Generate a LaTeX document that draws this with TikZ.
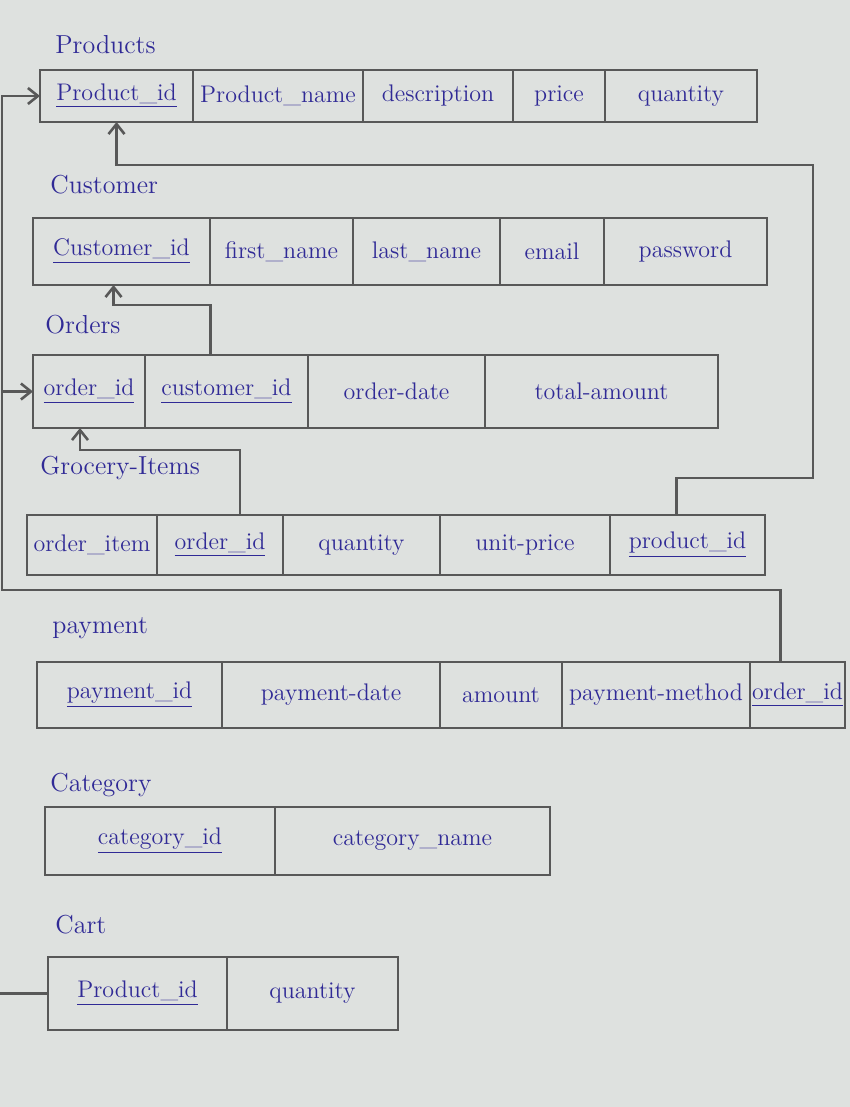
\documentclass[tikz,border=0pt]{standalone}
\usepackage{amsmath}
\usetikzlibrary{arrows.meta,
positioning,
calc}
\definecolor{ink}{RGB}{48,42,150}
\definecolor{pencil}{RGB}{88,88,88}
\definecolor{paper}{RGB}{222,225,223}

\begin{document}
\begin{tikzpicture} [x=0.5pt, y=-0.5pt,
    >={Straight Barb[length=5pt, width=8pt]},
    cell/.style={rectangle, draw=pencil, line width=0.7pt, text=ink,
        outer sep=0pt, inner sep=1pt, align=center,
        font=\fontsize{12}{14}\selectfont},
    title/.style={text=ink, anchor=west, inner sep=0pt,
        font=\fontsize{13}{15}\selectfont},
    link/.style={draw=pencil, line width=1.3pt, ->}
  ]

  \fill [paper] (0, 0) rectangle (850, 1107);
  \useasboundingbox (0, 0) rectangle (850, 1107);

  % Products
  \node [title] (tprod) at (55, 45) {Products};
  \begin{scope}[cell/.append style={minimum height=26pt}]
    \node [cell, anchor=west, minimum width=76.5pt] (pid) at (40, 96) {\underline{Product\_id}};
    \node [cell, minimum width=85pt, right=0pt of pid] (pname) {Product\_name};
    \node [cell, minimum width=75pt, right=0pt of pname] (pdesc) {description};
    \node [cell, minimum width=46pt, right=0pt of pdesc] (pprice) {price};
    \node [cell, minimum width=76pt, right=0pt of pprice] (pqty) {quantity};
  \end{scope}

  % Customer
  \node [title] (tcust) at (50, 185) {Customer};
  \begin{scope}[cell/.append style={minimum height=33.5pt}]
    \node [cell, anchor=west, minimum width=88.5pt] (cid) at (33, 251.5) {\underline{Customer\_id}};
    \node [cell, minimum width=71.5pt, right=0pt of cid] (cfirst) {first\_name};
    \node [cell, minimum width=73.5pt, right=0pt of cfirst] (clast) {last\_name};
    \node [cell, minimum width=52pt, right=0pt of clast] (cmail) {email};
    \node [cell, minimum width=81.5pt, right=0pt of cmail] (cpass) {password};
  \end{scope}

  % Orders
  \node [title] (tord) at (45, 325) {Orders};
  \begin{scope}[cell/.append style={minimum height=36.5pt}]
    \node [cell, anchor=west, minimum width=56pt] (oid) at (33, 391.5) {\underline{order\_id}};
    \node [cell, minimum width=81.5pt, right=0pt of oid] (ocust) {\underline{customer\_id}};
    \node [cell, minimum width=88.5pt, right=0pt of ocust] (odate) {order-date};
    \node [cell, minimum width=116.5pt, right=0pt of odate] (oamt) {total-amount};
  \end{scope}

  % Grocery-Items
  \node [title] (tgroc) at (40, 468) {Grocery-Items};
  \begin{scope}[cell/.append style={minimum height=30pt}]
    \node [cell, anchor=west, minimum width=65pt] (gitem) at (27, 545) {order\_item};
    \node [cell, minimum width=63pt, right=0pt of gitem] (gord) {\underline{order\_id}};
    \node [cell, minimum width=78.5pt, right=0pt of gord] (gqty) {quantity};
    \node [cell, minimum width=85pt, right=0pt of gqty] (gprice) {unit-price};
    \node [cell, minimum width=77.5pt, right=0pt of gprice] (gpid) {\underline{product\_id}};
  \end{scope}

  % payment
  \node [title] (tpay) at (52, 628) {payment};
  \begin{scope}[cell/.append style={minimum height=33pt}]
    \node [cell, anchor=west, minimum width=92.5pt] (payid) at (37, 695) {\underline{payment\_id}};
    \node [cell, minimum width=109pt, right=0pt of payid] (paydate) {payment-date};
    \node [cell, minimum width=61pt, right=0pt of paydate] (payamt) {amount};
    \node [cell, minimum width=94pt, right=0pt of payamt] (paymeth) {payment-method};
    \node [cell, minimum width=47.5pt, right=0pt of paymeth] (payord) {\underline{order\_id}};
  \end{scope}

  % Category
  \node [title] (tcat) at (50, 785) {Category};
  \begin{scope}[cell/.append style={minimum height=34pt}]
    \node [cell, anchor=west, minimum width=115pt] (catid) at (45, 841) {\underline{category\_id}};
    \node [cell, minimum width=137.5pt, right=0pt of catid] (catname) {category\_name};
  \end{scope}

  % Cart
  \node [title] (tcart) at (55, 925) {Cart};
  \begin{scope}[cell/.append style={minimum height=36.5pt}]
    \node [cell, anchor=west, minimum width=89.5pt] (cpid) at (48, 993.5) {\underline{Product\_id}};
    \node [cell, minimum width=85.5pt, right=0pt of cpid] (cqty) {quantity};
  \end{scope}

  % links
  \coordinate (pbend) at (813, 165);
  \coordinate (obus) at (2, 391.5);
  \coordinate (cleft) at (0, 993.5);

  \draw [link] ([xshift=-8pt]ocust.north) -- ++(0, -50) -| ([xshift=-4pt]cid.south);
  \draw [link] ([xshift=10pt]gord.north) -- ++(0, -65) -| ([xshift=-4.5pt]oid.south);
  \draw [link] ([xshift=-5.5pt]gpid.north) -- ++(0, -37) -| (pbend) -| (pid.south);
  \draw [link] ([xshift=-8.5pt]payord.north) -- ++(0, -72) -| (obus) -- (oid.west);
  \draw [link] (obus) |- (pid.west);
  \draw [link, -] (cleft) -- (cpid.west);

\end{tikzpicture}
\end{document}
